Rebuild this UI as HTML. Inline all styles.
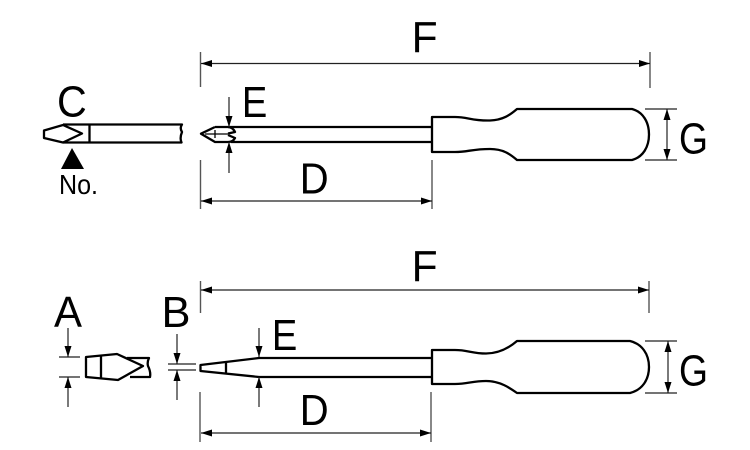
<!DOCTYPE html>
<html><head><meta charset="utf-8"><style>
html,body{margin:0;padding:0;background:#fff}
svg{display:block}
text{font-family:"Liberation Sans",sans-serif;font-size:43.5px;fill:#000}
.o{fill:#fff;stroke:#000;stroke-width:2.3;stroke-linejoin:round}
.t{fill:none;stroke:#000;stroke-width:2.3;stroke-linejoin:round}
.s{fill:none;stroke:#000;stroke-width:1.3}
.d{stroke:#222;stroke-width:1.2;fill:none}
.e{stroke:#555;stroke-width:1.4;fill:none}
</style></head><body>
<svg width="750" height="450" viewBox="0 0 750 450" xmlns="http://www.w3.org/2000/svg">
<defs>
<path id="al" d="M0 0L11 -3.500V3.500Z" fill="#000"/>
<path id="ar" d="M0 0L-11 -3.500V3.500Z" fill="#000"/>
<path id="au" d="M0 0L-3.500 11H3.500Z" fill="#000"/>
<path id="ad" d="M0 0L-3.500 -11H3.500Z" fill="#000"/>
</defs>

<!-- top dimensions -->
<path class="e" d="M200.500 52V87M650 52V88M200.500 160V209M432 160V209"/>
<path class="d" d="M201 63.500H650M201 201H432"/>
<use href="#al" x="201" y="63.500"/><use href="#ar" x="650" y="63.500"/>
<use href="#al" x="201" y="201"/><use href="#ar" x="432" y="201"/>

<!-- top left tip C -->
<path class="t" d="M63 125L44 130.500V138L63 142.500L82 133.500Z"/>
<path class="t" d="M63 124.500H182Q179.500 128 182 132Q179.500 138 181.500 142.500H63M89.500 124.500V142.500"/>
<path d="M72 148L61 169H84Z" fill="#000"/>

<!-- top screwdriver -->
<path class="t" d="M215 127L201 133.700L215 142H228Q233 142 235 138L228 135M215 127H228Q233 127.500 235 132L228 133.500"/>
<path class="s" d="M205 134H228M215 130V138"/>
<path class="t" d="M228 127H431M231 142H431"/>
<path class="o" d="M432 117H455C468 117 472 121 490 120.500C503 120 510 115 517 109H632C643 112 649 122 649 134.500C649 147 643 157 632 160H517C510 154 503 149 490 149C472 149 468 152 455 152H432Z"/>
<path class="d" d="M229 97V127M229 142V173"/>
<use href="#ad" x="229" y="127"/><use href="#au" x="229" y="142"/>
<path class="d" d="M645 109H677M645 160H677M667 109V160"/>
<use href="#au" x="667" y="109"/><use href="#ad" x="667" y="160"/>

<!-- bottom dimensions -->
<path class="e" d="M200.500 281V313M649 281V313M200 392V442M431 392V442"/>
<path class="d" d="M201 290H649M201 433H431"/>
<use href="#al" x="201" y="290"/><use href="#ar" x="649" y="290"/>
<use href="#al" x="201" y="433"/><use href="#ar" x="431" y="433"/>

<!-- A tip -->
<path class="t" d="M86 357L117 354L143 366L118 380L86 377Z"/>
<path class="t" d="M101 356V378M127 358H149Q147 362 148 366Q151 372 150 377H130"/>
<path class="d" d="M59 357H80M59 377H80M68 328V357M68 377V407"/>
<use href="#ad" x="68" y="357"/><use href="#au" x="68" y="377"/>

<!-- bottom screwdriver -->
<path class="t" d="M431 358H259L200.500 365V371L259 377H431M226 362V373"/>
<path class="o" d="M432 350H455C468 350 472 353.500 486 353.500C500 353.500 510 347 517 341H630C642 344 649 354 649 367C649 380 642 390 630 393H517C510 388 500 381 486 381C472 381 468 384 455 384H432Z"/>
<path class="d" d="M168 364H196M168 370H196M177 334V364M177 370V400"/>
<use href="#ad" x="177" y="364"/><use href="#au" x="177" y="370"/>
<path class="d" d="M259 328V357M259 377V407"/>
<use href="#ad" x="259" y="357"/><use href="#au" x="259" y="377"/>
<path class="d" d="M645 341H677M645 393H677M668 341V393"/>
<use href="#au" x="668" y="341"/><use href="#ad" x="668" y="393"/>

<!-- labels -->
<text x="411.600" y="52" textLength="26" lengthAdjust="spacingAndGlyphs">F</text>
<text x="57" y="116.500" textLength="29.800" lengthAdjust="spacingAndGlyphs">C</text>
<text x="241.900" y="117" textLength="25.400" lengthAdjust="spacingAndGlyphs">E</text>
<text x="299.800" y="193.500" textLength="28.900" lengthAdjust="spacingAndGlyphs">D</text>
<text x="679" y="153.500" textLength="29" lengthAdjust="spacingAndGlyphs">G</text>
<text x="59" y="194" style="font-size:28px" textLength="39" lengthAdjust="spacingAndGlyphs">No.</text>
<text x="411.600" y="281" textLength="26" lengthAdjust="spacingAndGlyphs">F</text>
<text x="54" y="327" textLength="28" lengthAdjust="spacingAndGlyphs">A</text>
<text x="161.500" y="327" textLength="29" lengthAdjust="spacingAndGlyphs">B</text>
<text x="271.900" y="350" textLength="25.400" lengthAdjust="spacingAndGlyphs">E</text>
<text x="299.800" y="425" textLength="28.900" lengthAdjust="spacingAndGlyphs">D</text>
<text x="679" y="385.500" textLength="29" lengthAdjust="spacingAndGlyphs">G</text>
</svg>
</body></html>
